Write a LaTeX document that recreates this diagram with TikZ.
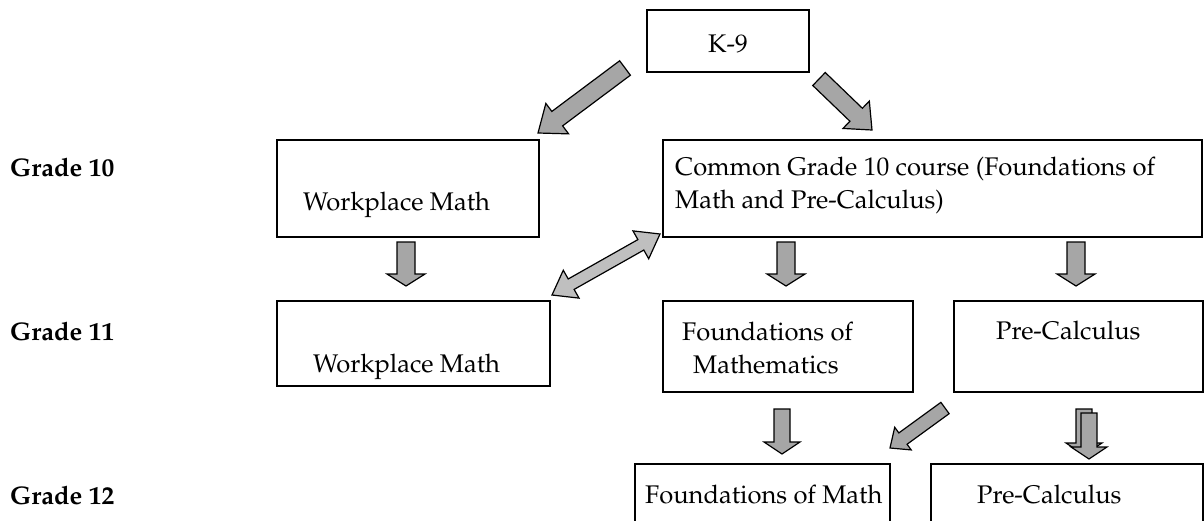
\documentclass[tikz,border=0pt]{standalone}
\usepackage[T1]{fontenc}
\usepackage{mathpazo}
\usepackage{tikz}
\usetikzlibrary{calc, positioning}

% block arrow: style, tail, tip, shaft half width, head half width, head length
\newcommand\fatarrow[6]{%
  \draw[#1] ($(#2)!#4!90:(#3)$) -- ($($(#3)!#6!(#2)$)!#4!90:(#3)$) -- ($($(#3)!#6!(#2)$)!#5!90:(#3)$) -- (#3)
    -- ($($(#3)!#6!(#2)$)!#5!-90:(#3)$) -- ($($(#3)!#6!(#2)$)!#4!-90:(#3)$) -- ($(#2)!#4!-90:(#3)$) -- cycle;}
% block arrow with two heads
\newcommand\fatarrows[6]{%
  \draw[#1] (#2) -- ($($(#2)!#6!(#3)$)!#5!90:(#3)$) -- ($($(#2)!#6!(#3)$)!#4!90:(#3)$)
    -- ($($(#3)!#6!(#2)$)!#4!90:(#3)$) -- ($($(#3)!#6!(#2)$)!#5!90:(#3)$) -- (#3)
    -- ($($(#3)!#6!(#2)$)!#5!-90:(#3)$) -- ($($(#3)!#6!(#2)$)!#4!-90:(#3)$)
    -- ($($(#2)!#6!(#3)$)!#4!-90:(#3)$) -- ($($(#2)!#6!(#3)$)!#5!-90:(#3)$) -- cycle;}

\tikzset{
  box/.style={draw, line width=1.2pt, rectangle, inner sep=0pt},
  txt/.style={inner sep=0pt, anchor=base west, font=\fontsize{25.5}{33}\selectfont},
  grade/.style={txt, font=\fontsize{25.5}{33}\selectfont\bfseries},
  arr/.style={draw, line width=1.2pt, fill=black!35, line join=miter},
  arrlight/.style={arr, fill=black!25}
}

\begin{document}
\begin{tikzpicture}[x=1pt,y=1pt,yscale=-1,xscale=1]
        \path[use as bounding box] (0,0) rectangle (1204,520);
        % Grade labels
        \node[grade] (g10) at (10,176) {Grade 10};
        \node[grade] (g11) at (10,340) {Grade 11};
        \node[grade] (g12) at (10,504) {Grade 12};
        % Boxes
        \node[box, minimum width=162, minimum height=62] (k9) at (728,41) {};
        \node[box, minimum width=262, minimum height=97] (wm10) at (408,188.5) {};
        \node[box, minimum width=539, minimum height=97] (com10) at (932.5,188.5) {};
        \node[box, minimum width=273, minimum height=85] (wm11) at (413.5,343.5) {};
        \node[box, minimum width=250, minimum height=91] (fm11) at (788,346.5) {};
        \node[box, minimum width=249, minimum height=91] (pc11) at (1078.5,346.5) {};
        \node[box, minimum width=255, minimum height=70] (fm12) at (762.5,499) {};
        \node[box, minimum width=272, minimum height=70] (pc12) at (1067,499) {};
        % Text Node
        \node[txt, anchor=base] (k9t) at (728,52) {K-9};
        \node[txt] (wm10t) at (303,210) {Workplace Math};
        \node[txt, align=left] (com10t) at (675,208) {Common Grade 10 course (Foundations of\\Math and Pre-Calculus)};
        \node[txt] (wm11t) at (313,372) {Workplace Math};
        \node[txt] (fm11t) at (682,340) {Foundations of};
        \node[txt] (fm11u) at (693,373) {Mathematics};
        \node[txt] (pc11t) at (996,339) {Pre-Calculus};
        \node[txt] (fm12t) at (645,503) {Foundations of Math};
        \node[txt] (pc12t) at (977,503) {Pre-Calculus};
        % Arrow ends
        \coordinate (a1s) at (625,68);   \coordinate (a1e) at (538,133);
        \coordinate (a2s) at (819,79);   \coordinate (a2e) at (872,130);
        \coordinate (a3s) at (406,242);  \coordinate (a3e) at (406,286);
        \coordinate (a4s) at (552,295);  \coordinate (a4e) at (660,234);
        \coordinate (a5s) at (786,242);  \coordinate (a5e) at (786,286);
        \coordinate (a6s) at (1076,242); \coordinate (a6e) at (1076,286);
        \coordinate (a7s) at (782,409);  \coordinate (a7e) at (782,454);
        \coordinate (a8s) at (945,408);  \coordinate (a8e) at (890,448);
        \coordinate (a9s) at (1084,409); \coordinate (a9e) at (1084,455);
        \coordinate (a10s) at (1089,413); \coordinate (a10e) at (1089,459);
        % Block arrows
        \fatarrow{arr}{a1s}{a1e}{9pt}{19pt}{24pt}
        \fatarrow{arr}{a2s}{a2e}{9pt}{19pt}{22pt}
        \fatarrow{arr}{a3s}{a3e}{9pt}{19pt}{12pt}
        \fatarrows{arrlight}{a4s}{a4e}{6pt}{16pt}{22pt}
        \fatarrow{arr}{a5s}{a5e}{9pt}{19pt}{12pt}
        \fatarrow{arr}{a6s}{a6e}{9pt}{19pt}{12pt}
        \fatarrow{arr}{a7s}{a7e}{8pt}{18pt}{12pt}
        \fatarrow{arr}{a8s}{a8e}{7pt}{14pt}{16pt}
        \fatarrow{arr}{a9s}{a9e}{8pt}{18pt}{12pt}
        \fatarrow{arr}{a10s}{a10e}{8pt}{18pt}{12pt}
\end{tikzpicture}
\end{document}
